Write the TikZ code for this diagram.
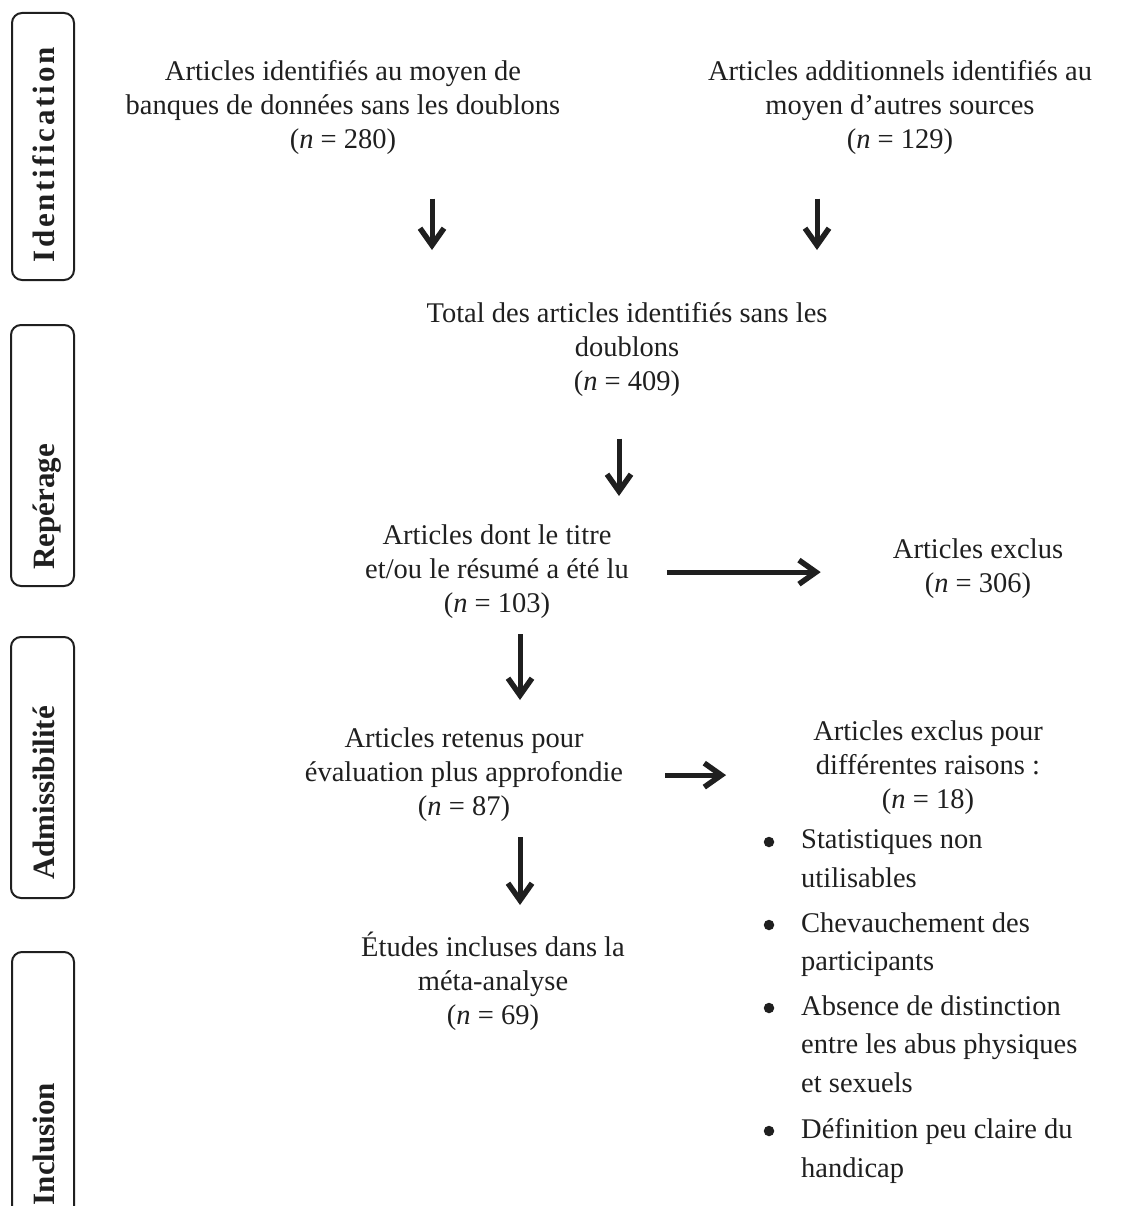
\documentclass[tikz,border=0pt]{standalone}
\usepackage{fontspec}
\setmainfont{Liberation Serif}
\usetikzlibrary{arrows.meta}
\tikzset{
    stage box/.style={draw, line width=2pt, rounded corners=10pt},
    stage label/.style={rotate=90, anchor=base, inner sep=0pt, font=\fontsize{31}{36}\selectfont\bfseries},
    step text/.style={anchor=north, align=center, inner sep=0pt, font=\fontsize{28.5}{34}\selectfont},
    reason text/.style={anchor=north west, align=left, inner sep=0pt, font=\fontsize{28.5}{38.5}\selectfont},
    reason bullet/.style={circle, fill, inner sep=0pt, minimum size=10.5pt},
    flow arrow/.style={line width=5pt, -{Straight Barb[length=17pt, width=24pt, line width=5.5pt]}},
}
\begin{document}
\begin{tikzpicture}[x=1pt, y=-1pt, black!88]
\useasboundingbox (0,0) rectangle (1122,1206);
\draw[stage box] (12,13) rectangle (74,280);
\draw[stage box] (11,325) rectangle (74,586);
\draw[stage box] (11,637) rectangle (74,898);
\draw[stage box] (12,952) rectangle (74,1240);
\node[stage label] (idlabel) at (54,155) {\addfontfeature{LetterSpace=9}Identification};
\node[stage label] (replabel) at (54,507) {Repérage};
\node[stage label] (admlabel) at (54,793) {Admissibilité};
\node[stage label] (inclabel) at (54,1144) {Inclusion};
\node[step text] (dbs) at (343,60) {Articles identifiés au moyen de\\banques de données sans les doublons\\(\textit{n} = 280)};
\node[step text] (other) at (900,60) {Articles additionnels identifiés au\\moyen d’autres sources\\(\textit{n} = 129)};
\node[step text] (total) at (627,302) {Total des articles identifiés sans les\\doublons\\(\textit{n} = 409)};
\node[step text] (screen) at (497,525) {Articles dont le titre\\et/ou le résumé a été lu\\(\textit{n} = 103)};
\node[step text] (excl) at (978,539) {Articles exclus\\(\textit{n} = 306)};
\node[step text] (elig) at (464,728) {Articles retenus pour\\évaluation plus approfondie\\(\textit{n} = 87)};
\node[step text] (reasons) at (928,721) {Articles exclus pour\\différentes raisons :\\(\textit{n} = 18)};
\node[step text] (incl) at (493,932) {Études incluses dans la\\méta-analyse\\(\textit{n} = 69)};
\node[reason bullet] (dot1) at (769,842) {};
\node[reason text] (item1) at (801,829.5) {Statistiques non\\utilisables};
\node[reason bullet] (dot2) at (769,925) {};
\node[reason text] (item2) at (801,912.5) {Chevauchement des\\participants};
\node[reason bullet] (dot3) at (769,1008) {};
\node[reason text] (item3) at (801,995.5) {Absence de distinction\\entre les abus physiques\\et sexuels};
\node[reason bullet] (dot4) at (769,1131) {};
\node[reason text] (item4) at (801,1118.5) {Définition peu claire du\\handicap};
\draw[flow arrow, shorten <=44pt, shorten >=52pt] ([xshift=89pt]dbs.south) -- ([xshift=89pt]dbs.south |- total.north);
\draw[flow arrow, shorten <=44pt, shorten >=52pt] ([xshift=-83pt]other.south) -- ([xshift=-83pt]other.south |- total.north);
\draw[flow arrow, shorten <=42pt, shorten >=29pt] ([xshift=-8pt]total.south) -- ([xshift=-8pt]total.south |- screen.north);
\draw[flow arrow, shorten <=38pt, shorten >=72pt] (screen.east) -- (screen.east -| excl.west);
\draw[flow arrow, shorten <=15pt, shorten >=28pt] ([xshift=23pt]screen.south) -- ([xshift=23pt]screen.south |- elig.north);
\draw[flow arrow, shorten <=42pt, shorten >=87pt] (elig.east) -- (elig.east -| reasons.west);
\draw[flow arrow, shorten <=15pt, shorten >=27pt] ([xshift=56pt]elig.south) -- ([xshift=56pt]elig.south |- incl.north);
\end{tikzpicture}
\end{document}
